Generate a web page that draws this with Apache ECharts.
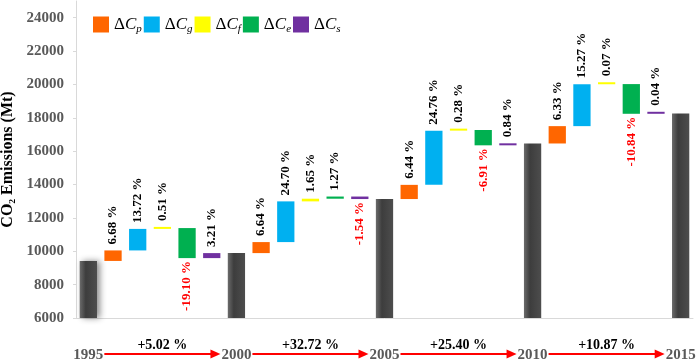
<!DOCTYPE html>
<html>
<head>
<meta charset="utf-8">
<script src="https://cdn.jsdelivr.net/npm/echarts@6/dist/echarts.min.js"></script>
<style>
  html, body { margin: 0; padding: 0; background: #fff; }
  #chart { width: 699px; height: 363px; }
</style>
</head>
<body>
<div id="chart"></div>
<script>
const years = ['1995', '2000', '2005', '2010', '2015']
const totals = [9420, 9890, 13130, 16460, 18250]
const factors = ['ΔCp', 'ΔCg', 'ΔCf', 'ΔCe', 'ΔCs']
const subs = ['p', 'g', 'f', 'e', 's']
// change in Mt for each factor, one row per period
const deltas = [
  [630, 1290, 50, -1800, 300],
  [660, 2440, 160, 130, -150],
  [850, 3250, 40, -920, 110],
  [1040, 2510, 10, -1780, 10],
]
const pctLabels = [
  ['6.68 %', '13.72 %', '0.51 %', '-19.10 %', '3.21 %'],
  ['6.64 %', '24.70 %', '1.65 %', '1.27 %', '-1.54 %'],
  ['6.44 %', '24.76 %', '0.28 %', '-6.91 %', '0.84 %'],
  ['6.33 %', '15.27 %', '0.07 %', '-10.84 %', '0.04 %'],
]
const periodLabels = ['+5.02 %', '+32.72 %', '+25.40 %', '+10.87 %']

const SERIF = "'Times New Roman', 'Liberation Serif', serif"
const COLORS = ['#FF6600', '#00B0F0', '#FFFF00', '#00B050', '#7030A0']
const AXIS_GRAY = '#D9D9D9'
const LABEL_GRAY = '#595959'

const totalColor = new echarts.graphic.LinearGradient(0, 0, 1, 0, [
  { offset: 0, color: '#6B6B6B' },
  { offset: 0.35, color: '#3D3D3D' },
  { offset: 1, color: '#4D4D4D' },
])

// waterfall: invisible base + one visible series per factor
const categories = []
const baseData = []
const totalData = []
const factorData = factors.map(() => [])

years.forEach((year, k) => {
  categories.push(year)
  baseData.push('-')
  // first bar has a soft shadow in the original
  totalData.push(k === 0
    ? { value: totals[k], itemStyle: { shadowColor: 'rgba(0,0,0,0.45)', shadowBlur: 6, shadowOffsetX: 3 } }
    : totals[k])
  factorData.forEach(arr => arr.push('-'))
  if (k >= deltas.length) return
  let running = totals[k]
  deltas[k].forEach((d, f) => {
    const end = running + d
    categories.push(year + '-' + subs[f])
    baseData.push(Math.min(running, end))
    totalData.push('-')
    const neg = d < 0
    factorData.forEach((arr, j) => {
      if (j !== f) { arr.push('-'); return }
      arr.push({
        value: Math.abs(d),
        label: {
          show: true,
          formatter: pctLabels[k][f],
          position: neg ? 'bottom' : 'top',
          rotate: 90,
          align: neg ? 'right' : 'left',
          verticalAlign: 'middle',
          distance: neg ? 3 : 6,
          color: neg ? '#FF0000' : '#000',
          fontFamily: SERIF,
          fontWeight: 'bold',
          fontSize: 13,
        },
      })
    })
    running = end
  })
})

const chart = echarts.init(document.getElementById('chart'))

chart.setOption({
  animation: false,
  grid: { left: 76, right: 6, top: 1, bottom: 45, containLabel: false, outerBoundsMode: 'none' },
  legend: {
    left: 88,
    top: 11,
    itemWidth: 16,
    itemHeight: 16,
    itemGap: 2,
    icon: 'rect',
    data: factors,
    formatter: name => '{d|Δ}{c|C}{s|' + subs[factors.indexOf(name)] + '}',
    textStyle: {
      fontFamily: SERIF,
      rich: {
        d: { fontFamily: SERIF, fontSize: 17, color: '#000', lineHeight: 20 },
        c: { fontFamily: SERIF, fontSize: 17, fontStyle: 'italic', color: '#000', lineHeight: 20 },
        s: { fontFamily: SERIF, fontSize: 11, fontStyle: 'italic', color: '#000', lineHeight: 12, verticalAlign: 'bottom' },
      },
    },
  },
  xAxis: {
    type: 'category',
    data: categories,
    axisLine: { lineStyle: { color: AXIS_GRAY } },
    axisTick: { show: false },
    axisLabel: {
      interval: (i, v) => years.includes(v),
      formatter: v => (years.includes(v) ? v : ''),
      margin: 30,
      fontFamily: SERIF,
      fontWeight: 'bold',
      fontSize: 15,
      color: LABEL_GRAY,
    },
  },
  yAxis: {
    type: 'value',
    min: 6000,
    max: 25000,
    interval: 2000,
    name: 'CO₂ Emissions (Mt)',
    nameLocation: 'middle',
    nameGap: 60,
    nameTextStyle: { fontFamily: SERIF, fontWeight: 'bold', fontSize: 16, color: '#000' },
    axisLine: { show: true, lineStyle: { color: AXIS_GRAY } },
    axisTick: { show: true, length: 3, lineStyle: { color: AXIS_GRAY } },
    splitLine: { show: false },
    axisLabel: {
      showMaxLabel: false,
      formatter: v => String(v),
      margin: 12,
      fontFamily: SERIF,
      fontWeight: 'bold',
      fontSize: 15,
      color: LABEL_GRAY,
    },
  },
  series: [
    {
      name: 'base',
      type: 'bar',
      stack: 'w',
      barWidth: '70%',
      data: baseData,
      itemStyle: { color: 'rgba(0,0,0,0)' },
      silent: true,
    },
    {
      name: 'total',
      type: 'bar',
      stack: 'w',
      data: totalData,
      itemStyle: { color: totalColor },
    },
    ...factors.map((name, f) => ({
      name,
      type: 'bar',
      stack: 'w',
      data: factorData[f],
      barMinHeight: 2,
      itemStyle: { color: COLORS[f] },
    })),
  ],
})

// year-to-year arrows under the axis, placed from the category scale
const gx = years.map(y => chart.convertToPixel({ xAxisIndex: 0 }, y))
const ARROW_Y = 354
const graphics = []
periodLabels.forEach((txt, k) => {
  const x0 = gx[k] + 16
  const tip = gx[k + 1] - 16
  graphics.push({
    type: 'line',
    shape: { x1: x0, y1: ARROW_Y, x2: tip - 8, y2: ARROW_Y },
    style: { stroke: '#FF0000', lineWidth: 2 },
  })
  graphics.push({
    type: 'polygon',
    shape: { points: [[tip - 10, ARROW_Y - 4.5], [tip, ARROW_Y], [tip - 10, ARROW_Y + 4.5]] },
    style: { fill: '#FF0000' },
  })
  graphics.push({
    type: 'text',
    x: (gx[k] + gx[k + 1]) / 2,
    y: 345,
    style: {
      text: txt,
      font: 'bold 14px ' + SERIF,
      fill: '#000',
      align: 'center',
      verticalAlign: 'middle',
    },
  })
})
chart.setOption({ graphic: graphics })
</script>
</body>
</html>
